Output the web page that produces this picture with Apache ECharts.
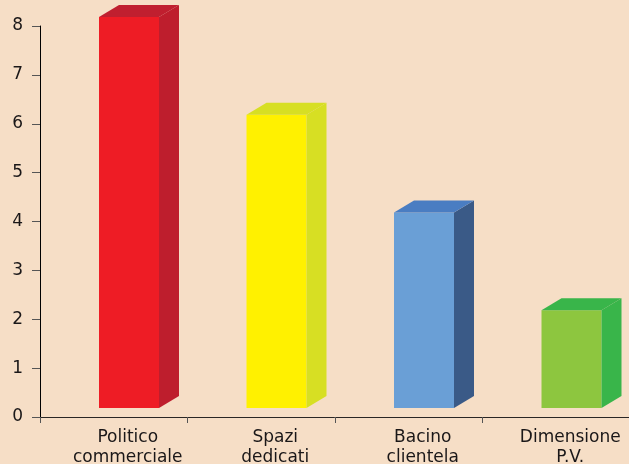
<!DOCTYPE html>
<html>
<head>
<meta charset="utf-8">
<script src="https://cdn.jsdelivr.net/npm/echarts@6/dist/echarts.min.js"></script>
<style>
html,body{margin:0;padding:0;background:#F6DEC6;}
#c{width:629px;height:464px;}
</style>
</head>
<body>
<div id="c"></div>
<script>
const categories = ['Politico\ncommerciale', 'Spazi\ndedicati', 'Bacino\nclientela', 'Dimensione\nP.V.'];
const values = [8, 6, 4, 2];
const yTicks = [0, 1, 2, 3, 4, 5, 6, 7, 8];

const frontColors = ['#EE1C25', '#FFF100', '#6A9FD6', '#8DC63F'];
const sideColors = ['#BE1E2D', '#D7DF23', '#3A5A87', '#39B54A'];
const topColors = ['#C01F2F', '#D7DF23', '#4A7DC2', '#39B54A'];

const chart = echarts.init(document.getElementById('c'), null, {renderer: 'canvas'});

function renderItem(params, api) {
  const idx = api.value(0);
  const v = api.value(1);
  const base = api.coord([idx, 0]);
  const top = api.coord([idx, v]);
  const lift = 9, w = 60, dx = 20, dy = 12;
  const cx = base[0] + 15.25;
  const x0 = cx - w / 2, x1 = cx + w / 2;
  const yb = base[1] - lift, yt = top[1] - lift;
  return {
    type: 'group',
    children: [
      {type: 'rect', shape: {x: x0, y: yt, width: w, height: yb - yt}, style: {fill: frontColors[idx]}},
      {type: 'polygon', shape: {points: [[x1, yt], [x1 + dx, yt - dy], [x1 + dx, yb - dy], [x1, yb]]}, style: {fill: sideColors[idx]}},
      {type: 'polygon', shape: {points: [[x0, yt], [x0 + dx, yt - dy], [x1 + dx, yt - dy], [x1, yt]]}, style: {fill: topColors[idx]}}
    ]
  };
}

chart.setOption({
  backgroundColor: '#F6DEC6',
  animation: false,
  grid: {left: 40, right: -1, top: 26, bottom: 47, outerBoundsMode: 'none', containLabel: false},
  xAxis: {
    type: 'category',
    data: categories,
    boundaryGap: true,
    axisLine: {lineStyle: {color: '#2a2624', width: 1}},
    axisTick: {show: true, length: 6, lineStyle: {color: '#555'}},
    axisLabel: {
      interval: 0,
      color: '#1a1718',
      fontFamily: 'DejaVu Sans',
      fontSize: 17,
      lineHeight: 20,
      margin: 11,
      padding: [0, 0, 0, 28]
    }
  },
  yAxis: {
    type: 'value',
    min: yTicks[0],
    max: yTicks[yTicks.length - 1],
    interval: 1,
    axisLine: {show: true, lineStyle: {color: '#000', width: 1}},
    axisTick: {show: true, length: 8, lineStyle: {color: '#555'}},
    splitLine: {show: false},
    axisLabel: {color: '#1a1718', fontFamily: 'DejaVu Sans', fontSize: 17, margin: 17}
  },
  series: [{
    type: 'custom',
    renderItem: renderItem,
    data: values.map((v, i) => [i, v]),
    encode: {x: 0, y: 1}
  }]
});
</script>
</body>
</html>
